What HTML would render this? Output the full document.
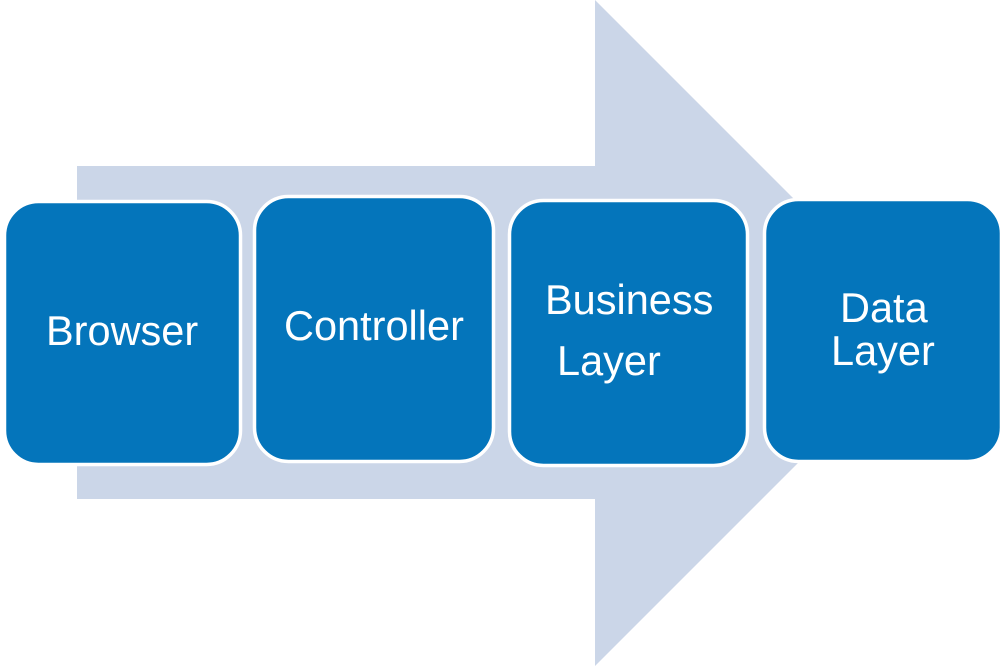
<!DOCTYPE html>
<html><head><style>html,body{margin:0;padding:0;background:#fff;}svg{display:block}</style></head>
<body>
<svg width="1004" height="666" viewBox="0 0 1004 666" xmlns="http://www.w3.org/2000/svg">
<polygon points="77,166 595,166 595,0 928,333 595,666 595,499 77,499" fill="#cbd6e8"/>
<g fill="#0475bb" stroke="#fff" stroke-width="3.5">
<rect x="4.5" y="201.5" width="236" height="263" rx="34"/>
<rect x="254.5" y="196.5" width="239" height="265" rx="34"/>
<rect x="509.5" y="200.5" width="238" height="265" rx="34"/>
<rect x="764.5" y="199.5" width="237" height="262" rx="34"/>
</g>
<g fill="#fff" font-family="Liberation Sans, Arial, sans-serif" font-size="41.5">
<text x="46" y="345">Browser</text>
<text x="284" y="340">Controller</text>
<text x="545" y="314">Business</text>
<text x="557" y="375">Layer</text>
<text x="840" y="322">Data</text>
<text x="831" y="365">Layer</text>
</g>
</svg>
</body></html>
